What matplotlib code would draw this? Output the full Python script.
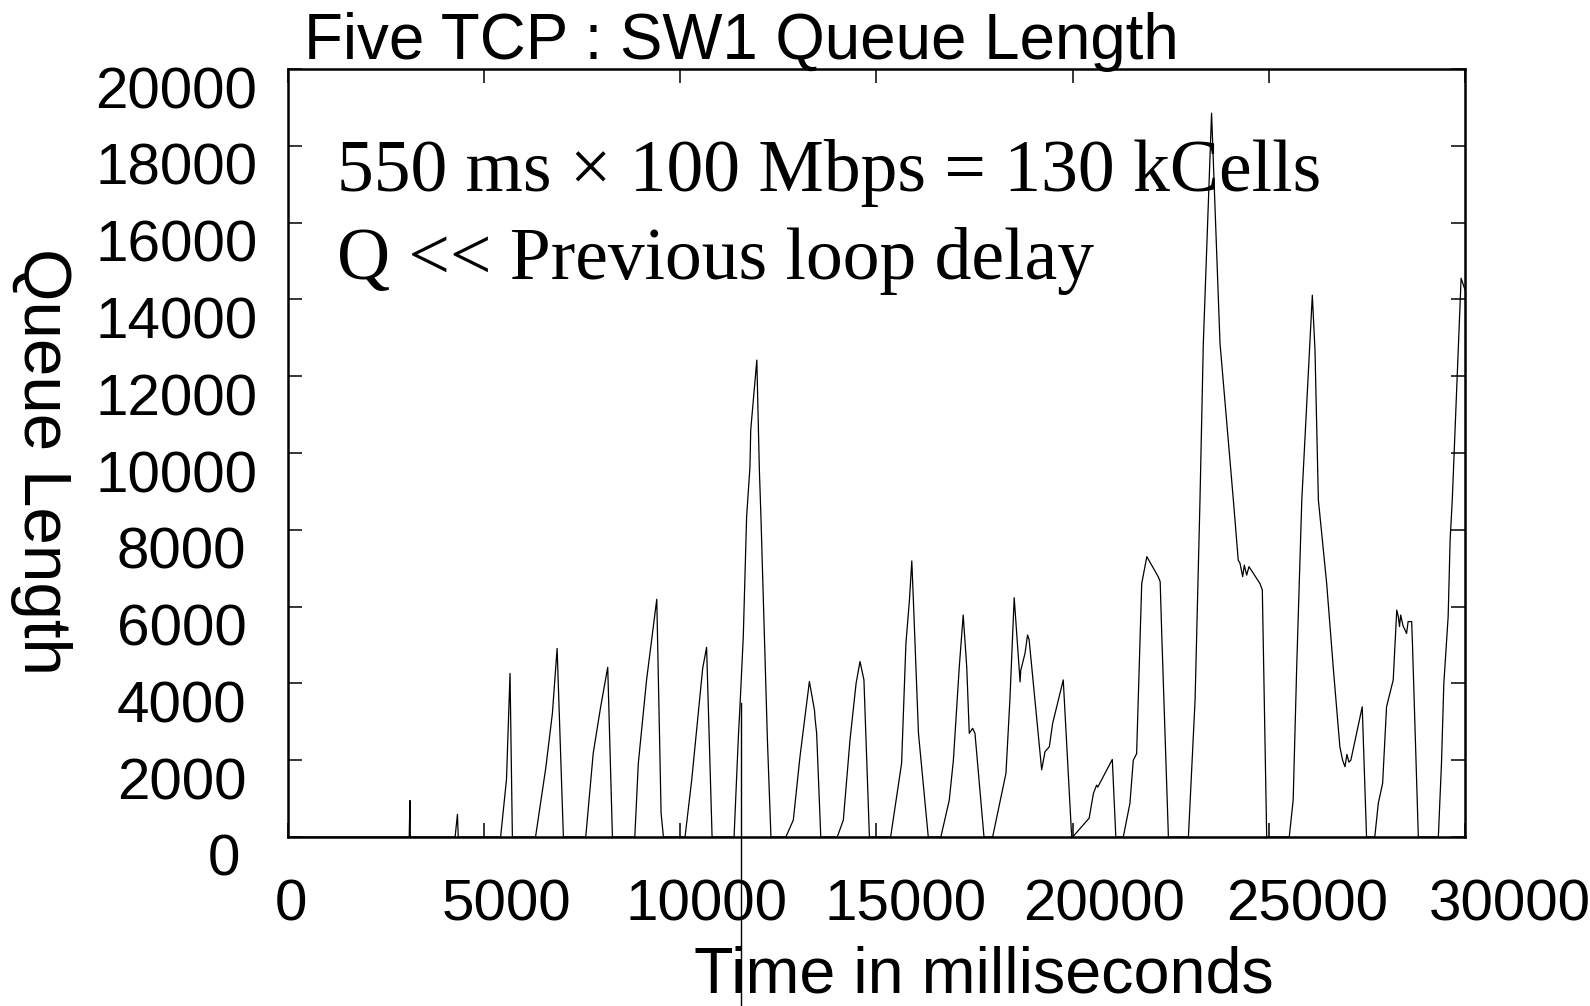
import matplotlib
matplotlib.use("Agg")
import matplotlib.pyplot as plt
from matplotlib.transforms import ScaledTranslation

# ---------------------------
# Five TCP : SW1 queue length trace
# ---------------------------

time_ms = [
    0, 3090, 3110, 3120, 4260, 4320, 4340,
    5420, 5570, 5640, 5660, 5720,
    6310, 6570, 6740, 6860, 7020,
    7590, 7780, 7970, 8150, 8270,
    8840, 8930, 9140, 9400, 9510, 9570,
    10120, 10290, 10570, 10670, 10810,
    11370, 11480, 11520, 11605, 11690, 11775, 11795, 11950, 12015, 12055, 12115, 12220, 12310,
    12690, 12880, 13050, 13290, 13420, 13435, 13475, 13580,
    14000, 14155, 14325, 14480, 14580, 14680, 14820,
    15360, 15640, 15750, 15840, 15900, 15940, 16070, 16320,
    16640, 16855, 16960, 17110, 17210, 17300, 17365, 17450, 17510, 17740,
    17960, 18300, 18400, 18510, 18640, 18660, 18675, 18785, 18850, 18890, 19210, 19295, 19405, 19490, 19760, 19975,
    20000, 20420, 20530, 20610, 20640, 21010, 21100,
    21290, 21460, 21545, 21630, 21760, 21890, 22180, 22230, 22270, 22440,
    22950, 23120, 23245, 23330, 23540, 23755, 24095, 24220, 24265, 24333, 24375, 24435, 24494, 24774, 24834, 24945,
    25520, 25620, 25710, 25840, 26108, 26176, 26262, 26474, 26640, 26810, 26880, 26940, 26990, 27040, 27090, 27380, 27490,
    27700, 27790, 27900, 28000, 28170, 28260, 28300, 28330, 28360, 28420, 28510, 28550, 28640, 28660, 28810,
    29320, 29400, 29460, 29570, 29620, 29675, 29900, 30000,
]

queue_len = [
    0, 0, 950, 0, 0, 590, 0,
    0, 1500, 3600, 4260, 0,
    0, 1790, 3220, 4910, 0,
    0, 2180, 3390, 4420, 0,
    0, 1920, 4090, 6190, 620, 0,
    0, 1480, 4390, 4940, 0,
    0, 2610, 3390, 5220, 8340, 9640, 10600, 12420, 9560, 8340, 6260, 2530, 0,
    0, 440, 2090, 4050, 3300, 3080, 2700, 0,
    0, 440, 2530, 4000, 4570, 4090, 0,
    0, 1920, 5040, 6170, 7190, 6170, 2700, 0,
    0, 960, 2000, 4430, 5780, 4430, 2700, 2830, 2700, 0,
    0, 1660, 3570, 6230, 4300, 4040, 4330, 4780, 5260, 5140, 1750, 2220, 2350, 2960, 4090, 0,
    0, 490, 1140, 1350, 1300, 2020, 0,
    0, 880, 2000, 2170, 6600, 7300, 6780, 6650, 5300, 0,
    0, 3570, 8780, 12860, 18850, 12860, 8780, 7210, 7130, 6780, 7080, 6820, 7040, 6600, 6430, 0,
    0, 960, 4430, 8780, 14110, 12680, 8780, 6600, 4430, 2350, 2000, 1830, 2150, 1950, 2000, 3390, 0,
    0, 880, 1400, 3390, 4090, 5910, 5740, 5480, 5780, 5500, 5300, 5610, 5610, 5040, 0,
    0, 1920, 4000, 5740, 7730, 8780, 14550, 14250,
]

x_ticks = [0, 5000, 10000, 15000, 20000, 25000, 30000]
y_ticks = [0, 2000, 4000, 6000, 8000, 10000, 12000, 14000, 16000, 18000, 20000]

# stray vertical cursor line that runs off the bottom of the original
cursor_t = 11550
cursor_top = 3490

plt.rcParams['font.family'] = ['Liberation Sans', 'DejaVu Sans']

fig = plt.figure(figsize=(15.9, 10.06), dpi=100)
ax = fig.add_axes([0.1811, 0.168, 0.7403, 0.7634])

ax.plot(time_ms, queue_len, color='black', linewidth=0.9)
ax.plot([cursor_t, cursor_t], [cursor_top, -4600], color='black', linewidth=1.0, clip_on=False)

ax.set_xlim(0, 30000)
ax.set_ylim(0, 20000)
ax.set_xticks(x_ticks)
ax.set_yticks(y_ticks)
ax.set_xticklabels([str(v) for v in x_ticks])
ax.set_yticklabels([str(v) for v in y_ticks])

for side in ['left', 'right', 'top', 'bottom']:
    ax.spines[side].set_linewidth(1.8)

ax.tick_params(direction='in', length=10, width=1.1, top=True, right=True, labelsize=42)
ax.tick_params(axis='x', pad=30)
ax.tick_params(axis='y', pad=22)

# the scanned labels sit a bit off their ticks; nudge them the same way
x_shift = [3, 22, 26, 29, 31, 38, 45]
for lab, dx in zip(ax.get_xticklabels(), x_shift):
    lab.set_transform(lab.get_transform() + ScaledTranslation(dx / 100, 0, fig.dpi_scale_trans))
for lab in ax.get_yticklabels():
    n = len(lab.get_text())
    dx = 0 if n == 5 else (-11 if n == 4 else -17)
    lab.set_transform(lab.get_transform() + ScaledTranslation(dx / 100, -18 / 100, fig.dpi_scale_trans))

fig.text(0.1912, 0.9414, "Five TCP : SW1 Queue Length", fontsize=45.8, ha='left', va='baseline')
fig.text(0.619, 0.013, "Time in milliseconds", fontsize=46.5, ha='center', va='baseline')
fig.text(0.026, 0.5417, "Queue Length", fontsize=48.5, rotation=270, ha='center', va='center')

ax.text(0.042, 0.841, "550 ms \u00d7 100 Mbps = 130 kCells", transform=ax.transAxes,
        family='Liberation Serif', fontsize=53, ha='left', va='baseline')
ax.text(0.042, 0.7266, "Q << Previous loop delay", transform=ax.transAxes,
        family='Liberation Serif', fontsize=53, ha='left', va='baseline')

fig.savefig("out.png", dpi=100)
